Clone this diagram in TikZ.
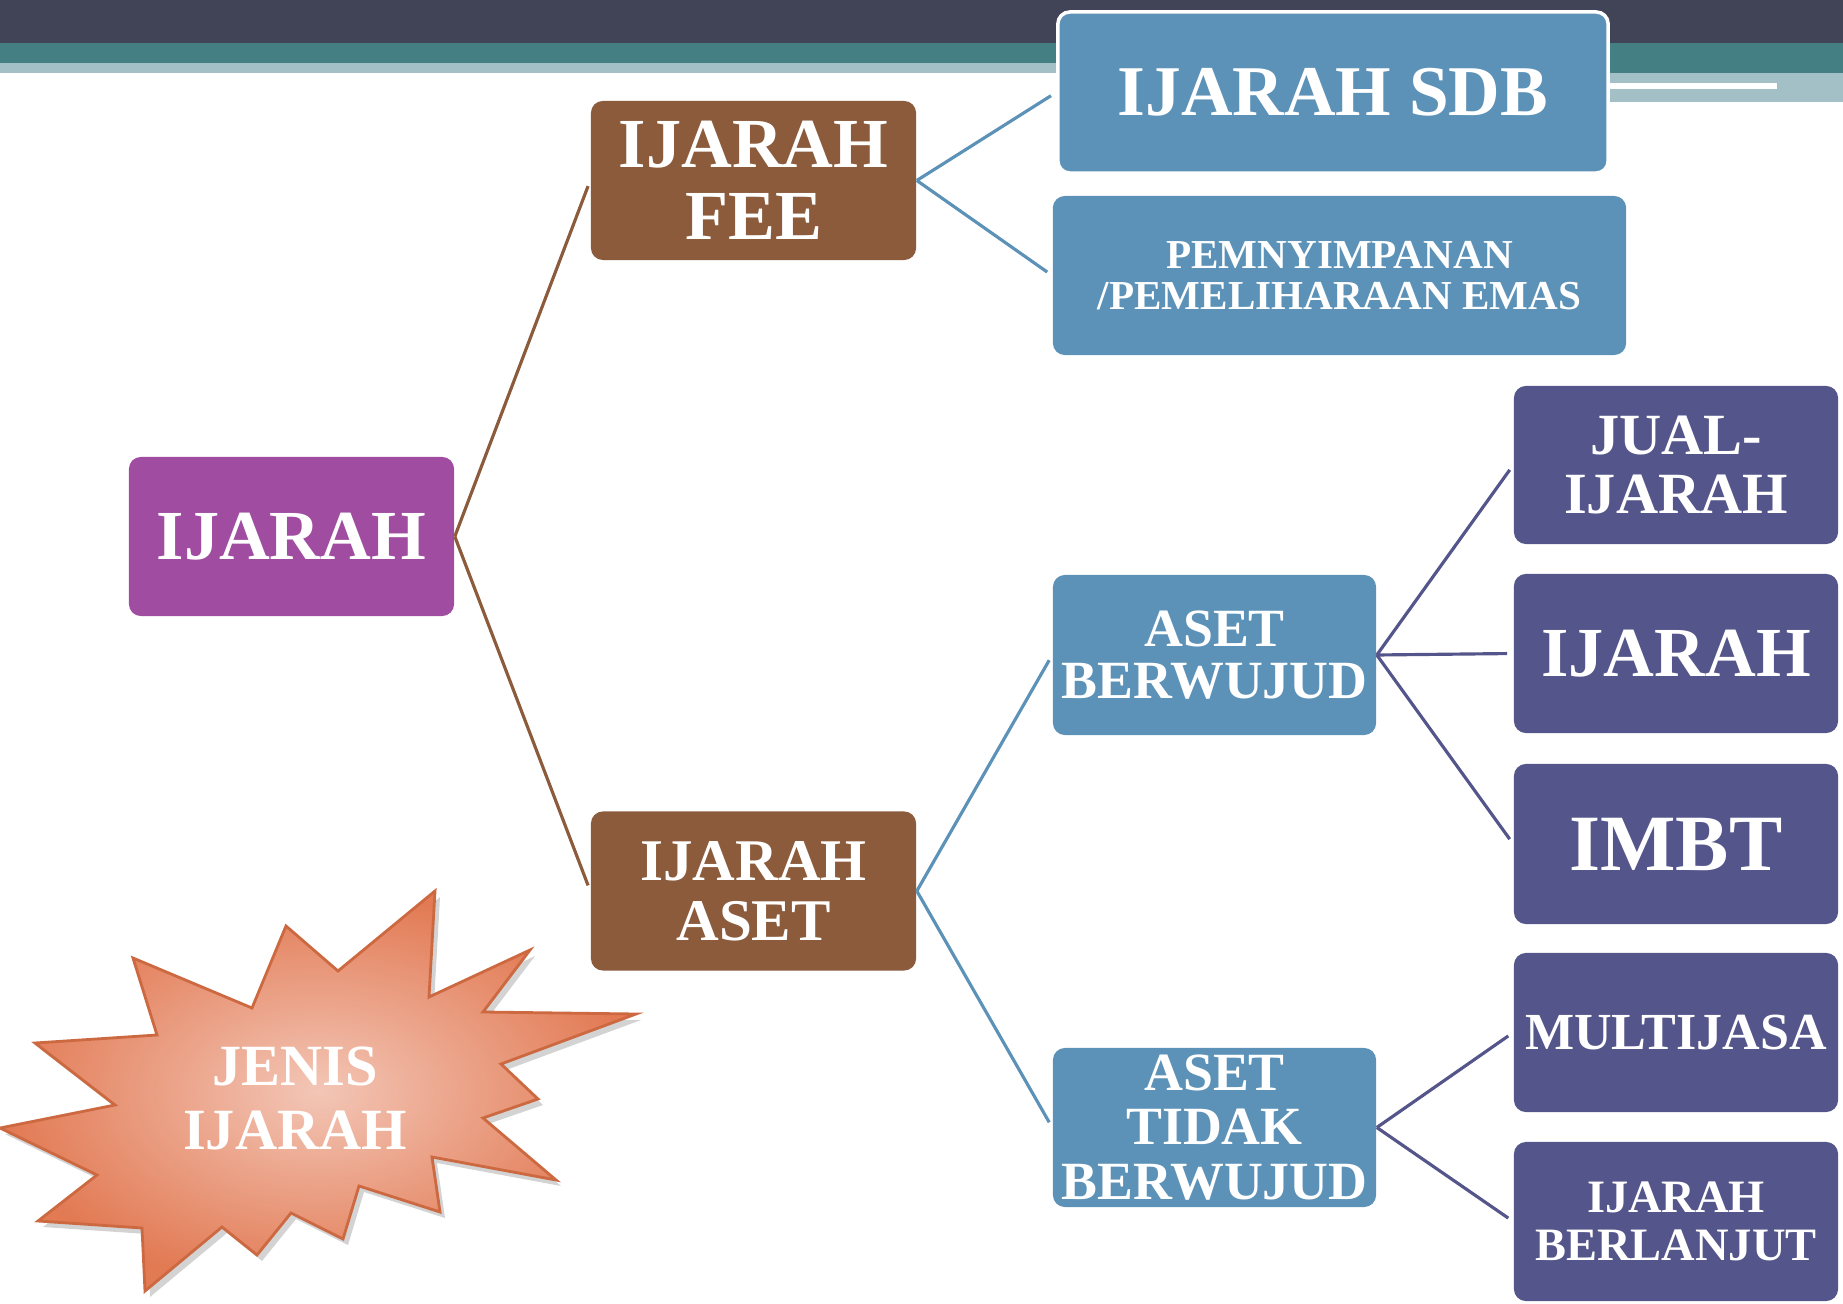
\documentclass[tikz,border=0pt]{standalone}
\usepackage{fontspec}
\setmainfont{Liberation Serif}
\usetikzlibrary{shadows}
\definecolor{ijmag}{RGB}{160,76,160}
\definecolor{ijbrown}{RGB}{139,91,60}
\definecolor{ijblue}{RGB}{92,146,183}
\definecolor{ijpurple}{RGB}{84,85,138}
\definecolor{bardark}{RGB}{65,67,86}
\definecolor{barteal}{RGB}{68,127,132}
\definecolor{barlight}{RGB}{162,192,197}
\definecolor{starout}{RGB}{226,122,84}
\definecolor{starin}{RGB}{243,198,182}
\definecolor{starline}{RGB}{205,105,65}
\newcommand\ijfont[2]{\fontsize{#1}{#2}\selectfont\bfseries}
\tikzset{
  box/.style={rectangle,rounded corners=0.12cm,text=white,align=center,
    minimum width=3.25cm,minimum height=1.59cm,inner sep=0pt},
  link/.style={line width=0.9pt,shorten >=0.06cm},
}
\begin{document}
\begin{tikzpicture}[x=0.01cm,y=-0.01cm]
\useasboundingbox (0,0) rectangle (1843,1304);
\clip (0,0) rectangle (1843,1304);
%header bars
\fill[bardark](0,0)rectangle(1843,43);
\fill[barteal](0,43)rectangle(1843,63);
\fill[barlight](0,63)rectangle(1608,73);
\fill[barteal](1608,63)rectangle(1843,73);
\fill[barlight](1608,73)rectangle(1843,102);
\fill[white](1610,83)rectangle(1777,89);
\node[anchor=west,text=gray!80,font=\fontsize{28}{28}\selectfont](pagenum)at(1826,28){5};
%starburst
\draw[line width=0.8pt,draw=starline,inner color=starin,outer color=starout,
  drop shadow={opacity=0.35,shadow xshift=0.05cm,shadow yshift=-0.06cm}]
  (435,891)--(429,997)--(530,950)--(483,1012)--(636,1014)--(501,1064)--(538,1099)
  --(483,1118)--(556,1180)--(432,1157)--(440,1212)--(359,1186)--(343,1239)
  --(291,1213)--(257,1255)--(222,1227)--(145,1291)--(142,1228)--(38,1221)
  --(97,1175)--(0,1128)--(115,1105)--(35,1043)--(157,1035)--(133,958)
  --(252,1008)--(286,926)--(338,971)--cycle;
\node[text=white,align=center,font=\ijfont{16.6}{18.2}](jenis)at(295,1098){JENIS\\IJARAH};
%level 1
\node[box,fill=ijmag,font=\ijfont{20}{20}](ijarah)at(291.5,536.5){IJARAH};
%level 2
\node[box,fill=ijbrown,font=\ijfont{20}{20.5}](fee)at(753.5,180.5){IJARAH\\FEE};
\node[box,fill=ijbrown,font=\ijfont{16.8}{17}](aset)at(753.5,891){IJARAH\\ASET};
%level 3
\node[box,fill=ijblue,draw=white,line width=1pt,minimum width=5.5cm,minimum height=1.61cm,
  font=\ijfont{20.3}{20}](sdb)at(1333,92.5){IJARAH SDB};
\node[box,fill=ijblue,minimum width=5.73cm,font=\ijfont{11.7}{11.7}](emas)at(1339.5,275.5)
  {PEMNYIMPANAN\\/PEMELIHARAAN EMAS};
\node[box,fill=ijblue,minimum width=3.23cm,minimum height=1.6cm,font=\ijfont{15.3}{15}](wujud)
  at(1214.5,655){ASET\\BERWUJUD};
\node[box,fill=ijblue,minimum width=3.23cm,font=\ijfont{15.3}{15.5}](tidak)
  at(1214.5,1127.5){ASET\\TIDAK\\BERWUJUD};
%level 4
\node[box,fill=ijpurple,minimum width=3.24cm,minimum height=1.58cm,font=\ijfont{16.6}{16.8}](jual)
  at(1676,465){JUAL-\\IJARAH};
\node[box,fill=ijpurple,minimum width=3.24cm,font=\ijfont{20}{20}](ijarahb)at(1676,653.5){IJARAH};
\node[box,fill=ijpurple,minimum width=3.24cm,minimum height=1.6cm,font=\ijfont{22.7}{22}](imbt)
  at(1676,844){IMBT};
\node[box,fill=ijpurple,minimum width=3.24cm,font=\ijfont{14.8}{15}](multi)at(1676,1032.5){MULTIJASA};
\node[box,fill=ijpurple,minimum width=3.24cm,font=\ijfont{13.2}{13.7}](lanjut)
  at(1676,1221.5){IJARAH\\BERLANJUT};
%connectors
\draw[link,ijbrown](ijarah.east)--(fee.west);
\draw[link,ijbrown](ijarah.east)--(aset.west);
\draw[link,ijblue](fee.east)--(sdb.west);
\draw[link,ijblue](fee.east)--(emas.west);
\draw[link,ijblue](aset.east)--(wujud.west);
\draw[link,ijblue](aset.east)--(tidak.west);
\draw[link,ijpurple](wujud.east)--(jual.west);
\draw[link,ijpurple](wujud.east)--(ijarahb.west);
\draw[link,ijpurple](wujud.east)--(imbt.west);
\draw[link,ijpurple](tidak.east)--(multi.west);
\draw[link,ijpurple](tidak.east)--(lanjut.west);
\end{tikzpicture}
\end{document}
